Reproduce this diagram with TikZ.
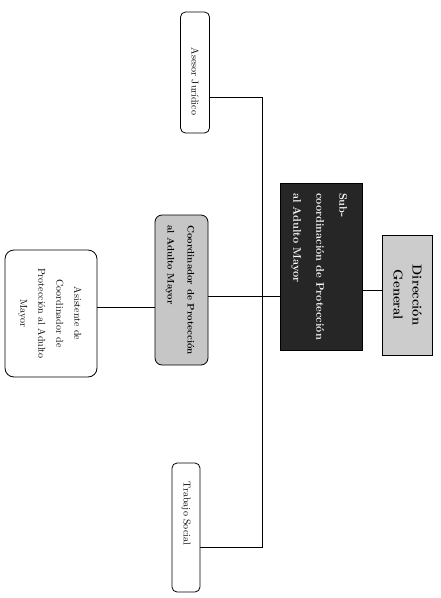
\documentclass[tikz,border=0pt]{standalone}
\usepackage{graphicx}
\begin{document}
\begin{tikzpicture}[x=1pt,y=-1pt,
  box/.style={draw=black, line width=0.8pt, inner sep=0pt, anchor=center},
  lnk/.style={draw=black, line width=0.8pt}]
\useasboundingbox (0,0) rectangle (441,598);
\fill[white] (0,0) rectangle (441,598);
% boxes
\node[box, rounded corners=5pt, minimum width=29pt, minimum height=121pt] (asesor) at (195,72.5)
  {\rotatebox[origin=c]{-90}{\fontsize{10}{12}\selectfont\hspace*{18pt}Asesor Jurídico}};
\node[box, rounded corners=5pt, minimum width=28pt, minimum height=129pt] (trabajo) at (186,527.5)
  {\rotatebox[origin=c]{-90}{\fontsize{10}{12}\selectfont Trabajo Social\hspace*{28pt}}};
\node[box, rounded corners=9pt, minimum width=92pt, minimum height=127pt] (asis) at (51,313.5)
  {\rotatebox[origin=c]{-90}{\fontsize{10}{18}\selectfont\begin{tabular}{@{}c@{}}Asistente de\\Coordinador de\\Protección al Adulto\\Mayor\end{tabular}}};
\node[box, fill=gray!45, rounded corners=7pt, minimum width=53pt, minimum height=150pt] (coord) at (181.5,290)
  {\rotatebox[origin=c]{-90}{\fontsize{9.5}{20}\selectfont\bfseries\begin{tabular}{@{}l@{}}Coordinador de Protección\\al Adulto Mayor\end{tabular}}};
\node[box, fill=black!85, minimum width=82pt, minimum height=167pt] (sub) at (321,266.5)
  {\rotatebox[origin=c]{-90}{\color{white}\fontsize{11}{23}\selectfont\bfseries\begin{tabular}{@{}l@{}}Sub-\\coordinación de Protección\\al Adulto Mayor\end{tabular}}};
\node[box, fill=gray!40, minimum width=50pt, minimum height=120pt] (dir) at (407,295)
  {\rotatebox[origin=c]{-90}{\fontsize{13}{19}\selectfont\bfseries\begin{tabular}{@{}c@{}}Dirección\\General\end{tabular}}};
% trunk
\coordinate (ttop) at (262,97);
\coordinate (tbot) at (262,547);
\draw[lnk] (asesor.east |- ttop) -- (ttop) -- (tbot) -- (trabajo.east |- tbot);
\draw[lnk] (coord.east |- 0,296) -- (sub.west |- 0,296);
\draw[lnk] (asis.east |- 0,307) -- (coord.west |- 0,307);
\draw[lnk] (sub.east |- 0,290) -- (dir.west |- 0,290);
\end{tikzpicture}
\end{document}
